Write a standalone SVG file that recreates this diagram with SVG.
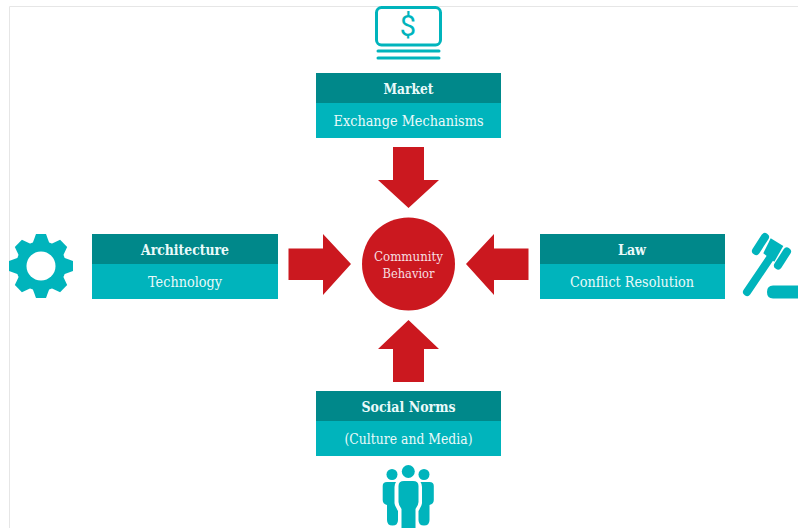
<svg xmlns="http://www.w3.org/2000/svg" width="798" height="528" viewBox="0 0 798 528">
<style>
.dark{fill:#00888a}
.light{fill:#00b4bc}
.red{fill:#cb181f}
.icon{fill:#00b4bc}
.line{fill:none;stroke:#00b4bc;stroke-linecap:round}
text{font-family:"DejaVu Serif","Liberation Serif",serif;text-anchor:middle;fill:#eafafa}
.t{font-size:15px;font-weight:700}
.s{font-size:14.500px}
.c{font-size:13px;fill:#f6dfe0}
</style>
<rect width="798" height="528" fill="#fff"/>
<path d="M9.500 528V6.500H798" fill="none" stroke="#e6e6e6"/>
<g id="connectors">
<polygon class="red" points="393,147 424,147 424,180 439,180 408.500,208 378,180 393,180"/>
<polygon class="red" points="393,382 424,382 424,349 439,349 408.500,320 378,349 393,349"/>
<polygon class="red" points="288.500,248.500 323,248.500 323,234 351,264 323,295 323,280 288.500,280"/>
<polygon class="red" points="528.500,248.500 494,248.500 494,234 466,264 494,295 494,280 528.500,280"/>
</g>
<g id="center">
<circle class="red" cx="408.500" cy="264" r="46.500"/>
<text class="c" x="408.500" y="261" textLength="69" lengthAdjust="spacingAndGlyphs">Community</text>
<text class="c" x="408.500" y="278" textLength="52" lengthAdjust="spacingAndGlyphs">Behavior</text>
</g>
<g id="market">
<rect class="light" x="316" y="73" width="185" height="65"/>
<rect class="dark" x="316" y="73" width="185" height="30"/>
<text class="t" x="408.500" y="93.500" textLength="50" lengthAdjust="spacingAndGlyphs">Market</text>
<text class="s" x="408.500" y="126" textLength="150" lengthAdjust="spacingAndGlyphs">Exchange Mechanisms</text>
</g>
<g id="architecture">
<rect class="light" x="92" y="234" width="186" height="65"/>
<rect class="dark" x="92" y="234" width="186" height="30"/>
<text class="t" x="185" y="254.500" textLength="88" lengthAdjust="spacingAndGlyphs">Architecture</text>
<text class="s" x="185" y="287" textLength="74" lengthAdjust="spacingAndGlyphs">Technology</text>
</g>
<g id="law">
<rect class="light" x="540" y="234" width="185" height="65"/>
<rect class="dark" x="540" y="234" width="185" height="30"/>
<text class="t" x="632" y="254.500" textLength="28" lengthAdjust="spacingAndGlyphs">Law</text>
<text class="s" x="632" y="287" textLength="124" lengthAdjust="spacingAndGlyphs">Conflict Resolution</text>
</g>
<g id="social-norms">
<rect class="light" x="316" y="391" width="185" height="65"/>
<rect class="dark" x="316" y="391" width="185" height="30"/>
<text class="t" x="408.500" y="411.500" textLength="94" lengthAdjust="spacingAndGlyphs">Social Norms</text>
<text class="s" x="408.500" y="444" textLength="128" lengthAdjust="spacingAndGlyphs">(Culture and Media)</text>
</g>
<g id="icon-market">
<rect x="376.500" y="7.500" width="64" height="37.500" rx="5" fill="none" stroke="#00b4bc" stroke-width="3"/>
<text x="408" y="36" style="font-family:Roboto,sans-serif;font-size:29px;fill:#00b4bc">$</text>
<path class="line" stroke-width="3" d="M378 51H439M378 58H439"/>
</g>
<g id="icon-gear">
<defs><polygon id="tooth" class="icon" points="-5,-32 5,-32 9,-21 -9,-21"/></defs>
<circle class="icon" cx="41" cy="266" r="25"/>
<use href="#tooth" transform="translate(41 266)"/>
<use href="#tooth" transform="translate(41 266) rotate(45)"/>
<use href="#tooth" transform="translate(41 266) rotate(90)"/>
<use href="#tooth" transform="translate(41 266) rotate(135)"/>
<use href="#tooth" transform="translate(41 266) rotate(180)"/>
<use href="#tooth" transform="translate(41 266) rotate(225)"/>
<use href="#tooth" transform="translate(41 266) rotate(270)"/>
<use href="#tooth" transform="translate(41 266) rotate(315)"/>
<circle cx="41" cy="266" r="14.500" fill="#fff"/>
</g>
<g id="icon-gavel">
<path class="line" stroke-width="8" d="M765 237L756 251"/>
<path class="line" stroke-width="8" d="M787 251.500L778 265.500"/>
<polygon class="icon" points="770.700,238.300 783.300,246 774.300,261.700 763.300,253.300"/>
<path class="line" stroke-width="8" d="M770 258L747 292"/>
<path class="icon" d="M798 285.500H773Q767 285.500 767 292Q767 298.500 773 298.500H798Z"/>
</g>
<g id="icon-people">
<circle class="icon" cx="408.300" cy="471.500" r="6.500"/>
<circle class="icon" cx="392" cy="474.500" r="5.500"/>
<circle class="icon" cx="424" cy="474.500" r="5.500"/>
<path class="icon" d="M404 481H413Q418.500 481 418.500 486V502Q418.500 505 415.500 509V528H401.500V509Q398.500 505 398.500 502V486Q398.500 481 404 481Z"/>
<path class="icon" d="M387 482H396Q394.500 484 394.500 487V503Q394.500 505 398 511V520Q398 525.500 392.500 525.500Q387 525.500 387 520V505Q382.700 504 382.700 500V486Q382.700 482 387 482Z"/>
<path class="icon" d="M429.500 482H420.500Q422 484 422 487V503Q422 505 418.500 511V520Q418.500 525.500 424 525.500Q429.500 525.500 429.500 520V505Q433.800 504 433.800 500V486Q433.800 482 429.500 482Z"/>
</g>
</svg>
